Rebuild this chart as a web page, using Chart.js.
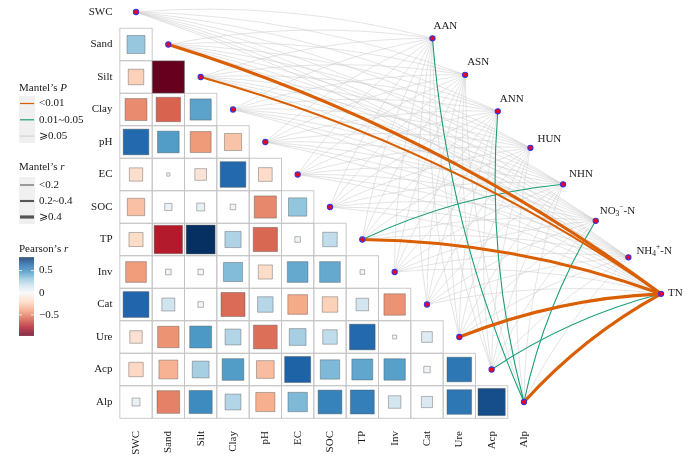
<!DOCTYPE html>
<html>
<head>
<meta charset="utf-8">
<script src="https://cdn.jsdelivr.net/npm/chart.js@4.4.1/dist/chart.umd.min.js"></script>
<style>
  html, body { margin: 0; padding: 0; background: #fff; }
  #wrap { width: 700px; height: 458px; }
</style>
</head>
<body>
<div id="wrap"><canvas id="chart"></canvas></div>
<script>
// variables on the diagonal, top to bottom
const varNames = ['SWC', 'Sand', 'Silt', 'Clay', 'pH', 'EC', 'SOC', 'TP', 'Inv', 'Cat', 'Ure', 'Acp', 'Alp']

// Pearson's r, lower triangle: row Sand..Alp, columns SWC..(row-1)
const pearsonR = [
  [0.31],
  [-0.23, -0.97],
  [-0.46, -0.57, 0.43],
  [0.63, 0.45, -0.42, -0.28],
  [-0.17, 0.01, -0.13, 0.63, -0.18],
  [-0.29, 0.05, 0.06, 0.03, -0.47, 0.32],
  [-0.19, -0.77, 0.80, 0.25, -0.56, 0.03, 0.20],
  [-0.41, 0.03, 0.03, 0.35, -0.19, 0.41, 0.41, 0.02],
  [0.64, 0.16, 0.03, -0.55, 0.23, -0.37, -0.23, 0.15, -0.44],
  [-0.15, -0.44, 0.46, 0.24, -0.54, 0.27, 0.20, 0.63, 0.015, 0.11],
  [-0.20, -0.34, 0.27, 0.45, -0.30, 0.65, 0.36, 0.42, 0.44, 0.04, 0.58],
  [0.06, -0.49, 0.51, 0.24, -0.35, 0.36, 0.54, 0.55, 0.15, 0.12, 0.58, 0.71]
]

// Mantel test nodes
const envNames = ['AAN', 'ASN', 'ANN', 'HUN', 'NHN', 'NO3-N', 'NH4-N', 'TN']

// significant Mantel links (all other pairs are p >= 0.05)
const linkEnv = ['TN', 'TN', 'TN', 'TN', 'TN', 'TN', 'AAN', 'ANN', 'NO3-N', 'NHN']
const linkVar = ['Sand', 'Silt', 'TP', 'Ure', 'Alp', 'Acp', 'Alp', 'Alp', 'Alp', 'TP']
const linkP = ['<0.01', '<0.01', '<0.01', '<0.01', '<0.01', '0.01~0.05', '0.01~0.05', '0.01~0.05', '0.01~0.05', '0.01~0.05']
const linkR = ['>=0.4', '0.2~0.4', '>=0.4', '>=0.4', '>=0.4', '<0.2', '<0.2', '<0.2', '<0.2', '<0.2']

const pLabels = ['<0.01', '0.01~0.05', '\u2A7E0.05']
const rLabels = ['<0.2', '0.2~0.4', '\u2A7E0.4']
const colorTicks = [0.5, 0, -0.5]
const rMin = -0.97
const rMax = 0.80

const pColor = { '<0.01': '#D95F02', '0.01~0.05': '#1B9E77', 'ns': 'rgba(205,205,205,0.85)' }
const rWidth = { '<0.2': 1.1, '0.2~0.4': 2.1, '>=0.4': 3.2 }

const RdBu = ['#67001F', '#B2182B', '#D6604D', '#F4A582', '#FDDBC7', '#F7F7F7', '#D1E5F0', '#92C5DE', '#4393C3', '#2166AC', '#053061']

function hex2rgb(h) {
  return [parseInt(h.slice(1, 3), 16), parseInt(h.slice(3, 5), 16), parseInt(h.slice(5, 7), 16)]
}
function rColor(v) {
  let t = v < 0 ? 0.5 + 0.5 * v / Math.abs(rMin) : 0.5 + 0.5 * v / rMax
  t = Math.max(0, Math.min(1, t)) * (RdBu.length - 1)
  const i = Math.min(Math.floor(t), RdBu.length - 2)
  const f = t - i
  const a = hex2rgb(RdBu[i]), b = hex2rgb(RdBu[i + 1])
  return 'rgb(' + a.map((c, k) => Math.round(c + (b[k] - c) * f)).join(',') + ')'
}

const squares = []
pearsonR.forEach((row, i) => row.forEach((v, j) => squares.push({ x: j, y: i + 1, r: v })))
const diag = varNames.map((n, i) => ({ x: i, y: i }))
// env nodes laid out along a diagonal line to the right
const envPts = envNames.map((n, k) => ({ x: 9.17 + 1.01 * k, y: 0.81 + 1.123 * k }))

const serif = '"Liberation Serif", "Times New Roman", serif'

const gridPlugin = {
  id: 'gridCells',
  beforeDatasetsDraw(chart) {
    const { ctx, scales: { x, y } } = chart
    ctx.save()
    ctx.strokeStyle = '#c4c4c4'
    ctx.lineWidth = 0.9
    for (let i = 1; i < varNames.length; i++) {
      for (let j = 0; j < i; j++) {
        const x0 = x.getPixelForValue(j - 0.5), x1 = x.getPixelForValue(j + 0.5)
        const y0 = y.getPixelForValue(i - 0.5), y1 = y.getPixelForValue(i + 0.5)
        ctx.strokeRect(x0, y0, x1 - x0, y1 - y0)
      }
    }
    ctx.restore()
  }
}

function curve(ctx, x0, y0, x1, y1) {
  const dx = x1 - x0, dy = y1 - y0
  const cx = (x0 + x1) / 2 + 0.085 * dy
  const cy = (y0 + y1) / 2 - 0.085 * dx
  ctx.beginPath()
  ctx.moveTo(x0, y0)
  ctx.quadraticCurveTo(cx, cy, x1, y1)
  ctx.stroke()
}

const linkPlugin = {
  id: 'mantelLinks',
  beforeDatasetsDraw(chart) {
    const { ctx, scales: { x, y } } = chart
    ctx.save()
    ctx.lineCap = 'butt'
    // non-significant links first
    ctx.strokeStyle = pColor.ns
    ctx.lineWidth = 0.65
    envPts.forEach((e, k) => {
      varNames.forEach((v, i) => {
        const sig = linkEnv.some((n, m) => n === envNames[k] && linkVar[m] === v)
        if (sig) return
        curve(ctx, x.getPixelForValue(i), y.getPixelForValue(i), x.getPixelForValue(e.x), y.getPixelForValue(e.y))
      })
    })
    // green under orange
    const order = linkEnv.map((n, m) => m).sort((a, b) => (linkP[a] === '<0.01') - (linkP[b] === '<0.01'))
    order.forEach(m => {
      const i = varNames.indexOf(linkVar[m])
      const e = envPts[envNames.indexOf(linkEnv[m])]
      ctx.strokeStyle = pColor[linkP[m]]
      ctx.lineWidth = rWidth[linkR[m]]
      curve(ctx, x.getPixelForValue(i), y.getPixelForValue(i), x.getPixelForValue(e.x), y.getPixelForValue(e.y))
    })
    ctx.restore()
  }
}

function mixedText(ctx, parts, x, y) {
  // parts: [text, italic]
  let cx = x
  parts.forEach(([t, it]) => {
    ctx.font = (it ? 'italic ' : '') + '11px ' + serif
    ctx.fillText(t, cx, y)
    cx += ctx.measureText(t).width
  })
}

function chemLabel(ctx, name, x, y) {
  ctx.font = '11px ' + serif
  if (name === 'NO3-N' || name === 'NH4-N') {
    const base = name.slice(0, 2), sub = name[2], sup = name === 'NO3-N' ? '\u2212' : '+'
    ctx.fillText(base, x, y)
    let cx = x + ctx.measureText(base).width
    ctx.font = '7.5px ' + serif
    ctx.fillText(sub, cx, y + 3)
    const w = ctx.measureText(sub).width
    ctx.fillText(sup, cx + w, y - 4)
    cx += w + ctx.measureText(sup).width
    ctx.font = '11px ' + serif
    ctx.fillText('-N', cx, y)
  } else {
    ctx.fillText(name, x, y)
  }
}

const textPlugin = {
  id: 'labels',
  afterDatasetsDraw(chart) {
    const { ctx, scales: { x, y } } = chart
    ctx.save()
    ctx.fillStyle = '#1a1a1a'
    ctx.font = '11px ' + serif
    // row labels
    ctx.textAlign = 'right'
    ctx.textBaseline = 'middle'
    varNames.forEach((n, i) => ctx.fillText(n, 112.5, y.getPixelForValue(i)))
    // column labels, rotated
    varNames.forEach((n, i) => {
      ctx.save()
      ctx.translate(x.getPixelForValue(i), 431)
      ctx.rotate(-Math.PI / 2)
      ctx.textAlign = 'right'
      ctx.fillText(n, 0, 0)
      ctx.restore()
    })
    // env labels
    const offX = [1, 2, 2, 7, 6, 4, 8, 7]
    const offY = [-12, -13, -12, -9, -10, -10, -6, -1]
    ctx.textAlign = 'left'
    envPts.forEach((e, k) => {
      chemLabel(ctx, envNames[k], x.getPixelForValue(e.x) + offX[k], y.getPixelForValue(e.y) + offY[k])
    })

    // legend: Mantel's P
    ctx.textAlign = 'left'
    mixedText(ctx, [['Mantel\u2019s ', false], ['P', true]], 19, 88)
    ctx.fillStyle = '#f0f0f0'
    ctx.fillRect(19, 96, 16, 47)
    const pKeys = ['<0.01', '0.01~0.05', 'ns']
    pLabels.forEach((l, k) => {
      const yy = 103.5 + k * 16.3
      ctx.strokeStyle = pColor[pKeys[k]]
      ctx.lineWidth = 1.2
      ctx.beginPath(); ctx.moveTo(20, yy); ctx.lineTo(34, yy); ctx.stroke()
      ctx.fillStyle = '#1a1a1a'
      ctx.font = '11px ' + serif
      ctx.fillText(l, 39, yy)
    })
    // legend: Mantel's r
    mixedText(ctx, [['Mantel\u2019s ', false], ['r', true]], 19, 167)
    ctx.fillStyle = '#f0f0f0'
    ctx.fillRect(19, 177, 16, 47)
    const rKeys = ['<0.2', '0.2~0.4', '>=0.4']
    rLabels.forEach((l, k) => {
      const yy = 185 + k * 16
      ctx.strokeStyle = '#555'
      ctx.lineWidth = rWidth[rKeys[k]]
      ctx.beginPath(); ctx.moveTo(20, yy); ctx.lineTo(34, yy); ctx.stroke()
      ctx.fillStyle = '#1a1a1a'
      ctx.font = '11px ' + serif
      ctx.fillText(l, 39, yy)
    })
    // legend: Pearson's r colourbar
    mixedText(ctx, [['Pearson\u2019s ', false], ['r', true]], 19, 249)
    const top = 257.3, bot = 335.7
    const vy = v => top + (rMax - v) / (rMax - rMin) * (bot - top)
    for (let py = top; py < bot; py += 0.5) {
      const v = rMax - (py - top) / (bot - top) * (rMax - rMin)
      ctx.fillStyle = rColor(v)
      ctx.fillRect(19, py, 15, 0.6)
    }
    colorTicks.forEach(t => {
      const yy = vy(t)
      ctx.strokeStyle = '#fff'
      ctx.lineWidth = 0.8
      ctx.beginPath(); ctx.moveTo(19, yy); ctx.lineTo(22, yy); ctx.moveTo(31, yy); ctx.lineTo(34, yy); ctx.stroke()
      ctx.fillStyle = '#1a1a1a'
      ctx.font = '11px ' + serif
      ctx.fillText(t === 0 ? '0' : (t < 0 ? '\u2212' : '') + Math.abs(t), 39, yy)
    })
    ctx.restore()
  }
}

const cellPx = ctx => ctx.chart.scales.x.getPixelForValue(1) - ctx.chart.scales.x.getPixelForValue(0)

new Chart(document.getElementById('chart'), {
  type: 'scatter',
  data: {
    datasets: [
      {
        label: 'diag',
        data: diag,
        pointStyle: 'circle',
        pointRadius: 2.6,
        backgroundColor: '#f2001c',
        borderColor: '#3b34d6',
        borderWidth: 1.1,
        clip: false
      },
      {
        label: 'env',
        data: envPts,
        pointStyle: 'circle',
        pointRadius: 2.6,
        backgroundColor: '#f2001c',
        borderColor: '#3b34d6',
        borderWidth: 1.1,
        clip: false
      },
      {
        label: 'pearson',
        data: squares,
        pointStyle: 'rect',
        pointRadius: ctx => {
          const p = ctx.raw
          return p ? cellPx(ctx) * Math.sqrt(Math.abs(p.r)) / Math.SQRT2 : 0
        },
        backgroundColor: ctx => ctx.raw ? rColor(ctx.raw.r) : '#fff',
        borderColor: 'rgba(80,80,80,0.45)',
        borderWidth: 0.9,
        clip: false
      }
    ]
  },
  options: {
    responsive: true,
    maintainAspectRatio: false,
    animation: false,
    events: [],
    layout: { padding: 0, autoPadding: false },
    plugins: { legend: { display: false }, tooltip: { enabled: false } },
    scales: {
      x: { type: 'linear', min: -4.207, max: 17.445, display: false },
      y: { type: 'linear', reverse: true, min: -0.369, max: 13.723, display: false }
    }
  },
  plugins: [gridPlugin, linkPlugin, textPlugin]
})
</script>
</body>
</html>
